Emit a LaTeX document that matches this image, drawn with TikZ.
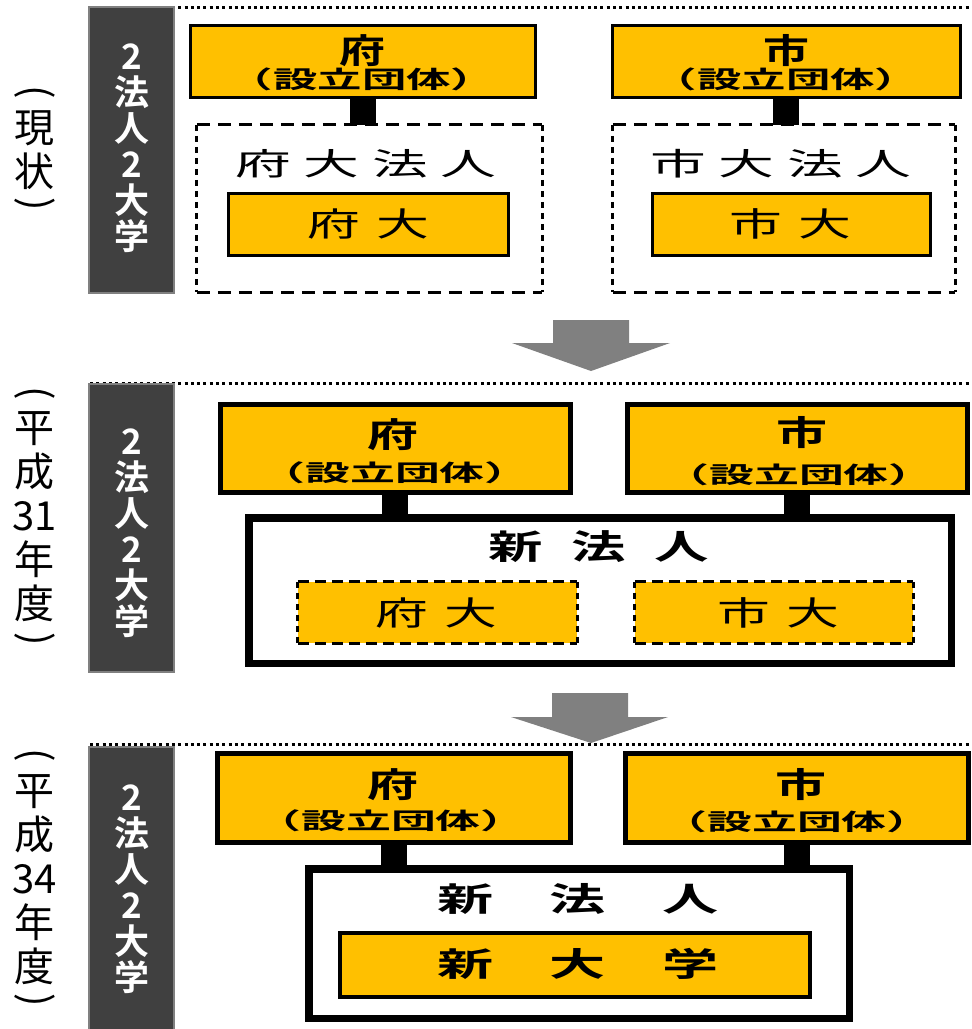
\documentclass[tikz,border=0pt]{standalone}
\usepackage{fontspec}
\usepackage{graphicx}
\newfontfamily\jp{Noto Sans CJK JP}[BoldFont={Noto Sans CJK JP Bold}]
\definecolor{yel}{HTML}{FFC000}
\definecolor{barfill}{HTML}{404040}
\definecolor{barline}{HTML}{808080}
\definecolor{arrgray}{HTML}{808080}
\newcommand\sx[3]{\scalebox{#1}[1]{\fontsize{#2}{#2}\selectfont #3}}
\newcommand\gp[1]{\hspace{#1pt}}
\tikzset{
  ybox/.style={draw=black, fill=yel, line width=3pt, inner sep=0pt},
  ybthick/.style={ybox, line width=5pt},
  wbox/.style={draw=black, fill=white, line width=5pt, inner sep=0pt},
  plain/.style={inner sep=0pt},
  yplain/.style={fill=yel, inner sep=0pt},
  dh/.style={line width=3pt, dash pattern=on 13pt off 8pt},
  dv/.style={line width=3pt, dash pattern=on 6pt off 5pt},
  dhs/.style={line width=3pt, dash pattern=on 11pt off 6pt},
  dvs/.style={line width=3pt, dash pattern=on 6pt off 5pt},
  conn/.style={line width=26pt, black},
  divider/.style={line width=3pt, dash pattern=on 3pt off 3.3pt},
  barbox/.style={fill=barfill, draw=barline, line width=1.5pt, inner sep=0pt},
  barlabel/.style={text=white, font=\jp\bfseries\fontsize{35}{36}\selectfont, align=center, inner sep=0pt},
  sidelabel/.style={font=\jp\fontsize{40}{44}\selectfont, align=center, inner sep=0pt},
  paren/.style={font=\jp\fontsize{40}{44}\selectfont, inner sep=0pt},
  txt/.style={inner sep=0pt, font=\jp},
  btxt/.style={inner sep=0pt, font=\jp\bfseries},
}
\newcommand\dashedge[3]{%
  \draw[#2] (#1.north west) -- (#1.north east);
  \draw[#2] (#1.south west) -- (#1.south east);
  \draw[#3] (#1.north west) -- (#1.south west);
  \draw[#3] (#1.north east) -- (#1.south east);}
\newcommand\vop{\rotatebox{-90}{(}}
\newcommand\vcp{\rotatebox{-90}{)}}
\begin{document}
\begin{tikzpicture}[x=1pt,y=-1pt]
\useasboundingbox[fill=white] (0,0) rectangle (972,1029);

% dividers
\draw[divider] (90,7) -- (972,7);
\draw[divider] (90,383) -- (972,383);
\draw[divider] (90,744) -- (972,744);

% side bars
\node[barbox, minimum width=85pt, minimum height=286pt] (bar1) at (131.5,150) {};
\node[barbox, minimum width=85pt, minimum height=288pt] (bar2) at (131.5,528) {};
\node[barbox, minimum width=85pt, minimum height=290pt] (bar3) at (131.5,892) {};
\node[barlabel] (bar1t) at (132,148) {2\\法\\人\\2\\大\\学};
\node[barlabel] (bar2t) at (132,533) {2\\法\\人\\2\\大\\学};
\node[barlabel] (bar3t) at (132,889) {2\\法\\人\\2\\大\\学};

% side labels
\node[paren] (side1o) at (35,92) {\vop};
\node[sidelabel] (side1) at (35,150) {現\\状};
\node[paren] (side1c) at (35,204) {\vcp};
\node[paren] (side2o) at (35,393) {\vop};
\node[sidelabel] (side2) at (35,517) {平\\成\\31\\年\\度};
\node[paren] (side2c) at (35,639) {\vcp};
\node[paren] (side3o) at (35,755) {\vop};
\node[sidelabel] (side3) at (35,880) {平\\成\\34\\年\\度};
\node[paren] (side3c) at (35,1000) {\vcp};

% ===== panel 1 =====
\node[ybox, minimum width=345pt, minimum height=72pt] (fu1) at (362.5,61) {};
\node[ybox, minimum width=348pt, minimum height=72pt] (shi1) at (786,61) {};
\node[plain, minimum width=345pt, minimum height=167pt] (fuh1) at (369.5,208.5) {};
\node[plain, minimum width=342pt, minimum height=167pt] (shih1) at (784,208.5) {};
\dashedge{fuh1}{dh}{dv}
\dashedge{shih1}{dh}{dv}
\draw[conn] (fu1.south) -- (fu1.south |- fuh1.north);
\draw[conn] (shi1.south) -- (shi1.south |- shih1.north);
\node[ybox, minimum width=280pt, minimum height=62pt] (fudai1) at (368,224) {};
\node[ybox, minimum width=278pt, minimum height=62pt] (shidai1) at (791,224) {};

\node[btxt] (fu1a) at (362,51) {\sx{1.35}{34}{府}};
\node[btxt] (fu1b) at (362,79) {\sx{1.85}{24}{（設立団体）}};
\node[btxt] (shi1a) at (786,51) {\sx{1.35}{34}{市}};
\node[btxt] (shi1b) at (786,79) {\sx{1.85}{24}{（設立団体）}};
\node[txt] (fuh1t) at (366,164) {\sx{1.8}{31}{府\gp{7}大\gp{7}法\gp{7}人}};
\node[txt] (shih1t) at (781,164) {\sx{1.8}{31}{市\gp{7}大\gp{7}法\gp{7}人}};
\node[txt] (fudai1t) at (368,224) {\sx{1.6}{33}{府\gp{10}大}};
\node[txt] (shidai1t) at (790,224) {\sx{1.6}{33}{市\gp{10}大}};

% arrow 1
\fill[arrgray] (553,320) -- (629,320) -- (629,343) -- (670,343) -- (591,371) -- (512,343) -- (553,343) -- cycle;

% ===== panel 2 =====
\node[ybthick, minimum width=350pt, minimum height=88pt] (fu2) at (395,448) {};
\node[ybthick, minimum width=340pt, minimum height=88pt] (shi2) at (797,448) {};
\node[wbox, minimum width=700pt, minimum height=143pt] (new2) at (600,590.5) {};
\draw[conn] (fu2.south) -- (fu2.south |- new2.north);
\draw[conn] (shi2.south) -- (shi2.south |- new2.north);
\draw[wbox, fill=none] (new2.north west) rectangle (new2.south east);
\node[yplain, minimum width=279pt, minimum height=61pt] (fudai2) at (437.5,612.5) {};
\node[yplain, minimum width=278pt, minimum height=61pt] (shidai2) at (774,612.5) {};
\dashedge{fudai2}{dhs}{dvs}
\dashedge{shidai2}{dhs}{dvs}

\node[btxt] (fu2a) at (393,435) {\sx{1.5}{34}{府}};
\node[btxt] (fu2b) at (395,473) {\sx{1.95}{23}{（設立団体）}};
\node[btxt] (shi2a) at (802,433) {\sx{1.5}{34}{市}};
\node[btxt] (shi2b) at (799,475) {\sx{1.95}{23}{（設立団体）}};
\node[btxt] (new2t) at (599,547) {\sx{1.6}{34}{新\gp{18}法\gp{18}人}};
\node[txt] (fudai2t) at (436,613) {\sx{1.6}{33}{府\gp{10}大}};
\node[txt] (shidai2t) at (778,613) {\sx{1.6}{33}{市\gp{10}大}};

% arrow 2
\fill[arrgray] (552,693) -- (628,693) -- (628,717) -- (668,717) -- (591,743) -- (511,717) -- (552,717) -- cycle;

% ===== panel 3 =====
\node[ybthick, minimum width=353pt, minimum height=89pt] (fu3) at (393.5,797.5) {};
\node[ybthick, minimum width=343pt, minimum height=89pt] (shi3) at (796.5,797.5) {};
\node[wbox, minimum width=538pt, minimum height=147pt] (new3) at (579,943.5) {};
\draw[conn] (fu3.south) -- (fu3.south |- new3.north);
\draw[conn] (shi3.south) -- (shi3.south |- new3.north);
\draw[wbox, fill=none] (new3.north west) rectangle (new3.south east);
\node[ybox, line width=4pt, minimum width=470pt, minimum height=64pt] (dai3) at (575,965) {};

\node[btxt] (fu3a) at (393,785) {\sx{1.5}{34}{府}};
\node[btxt] (fu3b) at (391,821) {\sx{1.95}{23}{（設立団体）}};
\node[btxt] (shi3a) at (801,785) {\sx{1.5}{34}{市}};
\node[btxt] (shi3b) at (797,822) {\sx{1.95}{23}{（設立団体）}};
\node[btxt] (new3t) at (578,899) {\sx{1.7}{33}{新\gp{33}法\gp{33}人}};
\node[btxt] (dai3t) at (578,964) {\sx{1.7}{33}{新\gp{33}大\gp{33}学}};
\end{tikzpicture}
\end{document}
